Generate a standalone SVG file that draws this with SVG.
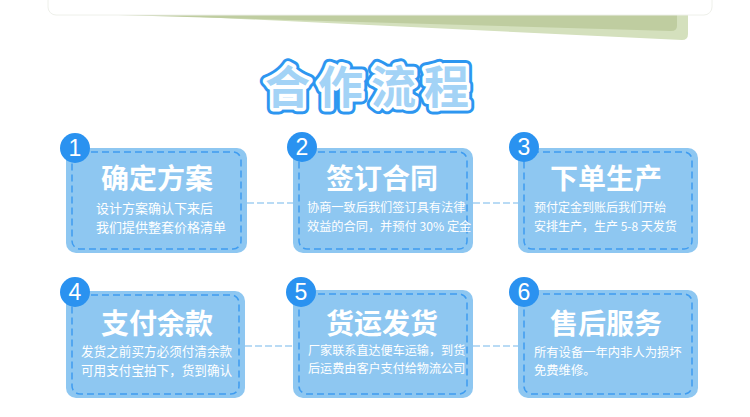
<svg xmlns="http://www.w3.org/2000/svg" width="750" height="417" viewBox="0 0 750 417">
<style>
.box{fill:#8ec7f1}
.inner{fill:none;stroke:#3f9cf0;stroke-width:1.5;stroke-dasharray:7 4}
.badge{fill:#2a92f0}
.num{fill:#fff;font-family:"Liberation Sans","Noto Sans",sans-serif;font-size:23px;text-anchor:middle}
.ttl{fill:#fff;font-family:"Noto Sans CJK SC",sans-serif;font-size:28px;font-weight:bold;text-anchor:middle}
.sub{fill:#fff;font-family:"Noto Sans CJK SC",sans-serif}
.conn{stroke:#a3cff2;stroke-width:1.5;stroke-dasharray:7 3;fill:none}
.head{font-family:"Noto Sans CJK SC",sans-serif;font-size:45px;font-weight:bold;letter-spacing:8px;text-anchor:middle;stroke-linejoin:round}
</style>
<rect width="750" height="417" fill="#fff"/>
<g id="banner">
<path d="M130,14 L688,14 L688,34 Q688,40 682,40 L200,17 Z" fill="#d4e0bd"/>
<path d="M118,14 L677,14 L677,26 Q677,31 671,31 L118,15 Z" fill="#bfcda0"/>
<rect x="48" y="-20" width="664" height="35" rx="8" fill="#fff" stroke="#eef0ea" stroke-width="1"/>
</g>
<g id="title">
<text class="head" x="371" y="104" fill="none" stroke="#2d96f0" stroke-width="13">合作流程</text>
<text class="head" x="371" y="104" fill="none" stroke="#fff" stroke-width="7">合作流程</text>
<text class="head" x="371" y="104" fill="#a3d3f6">合作流程</text>
</g>
<g id="connectors">
<line class="conn" x1="247" y1="203" x2="293" y2="203"/>
<line class="conn" x1="473" y1="203" x2="518" y2="203"/>
<line class="conn" x1="245" y1="346" x2="293" y2="346"/>
<line class="conn" x1="473" y1="346" x2="518" y2="346"/>
</g>
<g id="step1">
<rect class="box" x="66" y="148" width="181" height="105" rx="10"/>
<rect class="inner" x="72" y="152" width="169" height="97" rx="8"/>
<circle class="badge" cx="75" cy="148" r="15"/>
<text class="num" x="75" y="156">1</text>
<text class="ttl" x="157" y="189">确定方案</text>
<text class="sub" x="96" y="213" font-size="13">设计方案确认下来后</text>
<text class="sub" x="96" y="232" font-size="13">我们提供整套价格清单</text>
</g>
<g id="step2">
<rect class="box" x="293" y="148" width="180" height="105" rx="10"/>
<rect class="inner" x="299" y="152" width="168" height="97" rx="8"/>
<circle class="badge" cx="302" cy="147" r="15"/>
<text class="num" x="302" y="155">2</text>
<text class="ttl" x="382" y="189">签订合同</text>
<text class="sub" x="307" y="212" font-size="12.2">协商一致后我们签订具有法律</text>
<text class="sub" x="307" y="231" font-size="12.2">效益的合同，并预付 30% 定金</text>
</g>
<g id="step3">
<rect class="box" x="518" y="148" width="180" height="105" rx="10"/>
<rect class="inner" x="524" y="152" width="168" height="97" rx="8"/>
<circle class="badge" cx="524" cy="147" r="15"/>
<text class="num" x="524" y="155">3</text>
<text class="ttl" x="606" y="189">下单生产</text>
<text class="sub" x="534" y="212" font-size="12">预付定金到账后我们开始</text>
<text class="sub" x="534" y="231" font-size="12">安排生产，生产 5-8 天发货</text>
</g>
<g id="step4">
<rect class="box" x="66" y="291" width="179" height="107" rx="10"/>
<rect class="inner" x="72" y="295" width="167" height="99" rx="8"/>
<circle class="badge" cx="75" cy="292" r="15"/>
<text class="num" x="75" y="300">4</text>
<text class="ttl" x="157" y="334">支付余款</text>
<text class="sub" x="81" y="356" font-size="12.6">发货之前买方必须付清余款</text>
<text class="sub" x="81" y="375" font-size="12.6">可用支付宝拍下，货到确认</text>
</g>
<g id="step5">
<rect class="box" x="293" y="290" width="180" height="108" rx="10"/>
<rect class="inner" x="299" y="294" width="168" height="100" rx="8"/>
<circle class="badge" cx="301" cy="292" r="15"/>
<text class="num" x="301" y="300">5</text>
<text class="ttl" x="382" y="334">货运发货</text>
<text class="sub" x="308" y="355" font-size="12.1">厂家联系直达便车运输，到货</text>
<text class="sub" x="308" y="373" font-size="12.1">后运费由客户支付给物流公司</text>
</g>
<g id="step6">
<rect class="box" x="518" y="290" width="180" height="108" rx="10"/>
<rect class="inner" x="524" y="294" width="168" height="100" rx="8"/>
<circle class="badge" cx="524" cy="292" r="15"/>
<text class="num" x="524" y="300">6</text>
<text class="ttl" x="606" y="334">售后服务</text>
<text class="sub" x="534" y="357" font-size="12.3">所有设备一年内非人为损坏</text>
<text class="sub" x="534" y="375" font-size="12.3">免费维修。</text>
</g>
</svg>
